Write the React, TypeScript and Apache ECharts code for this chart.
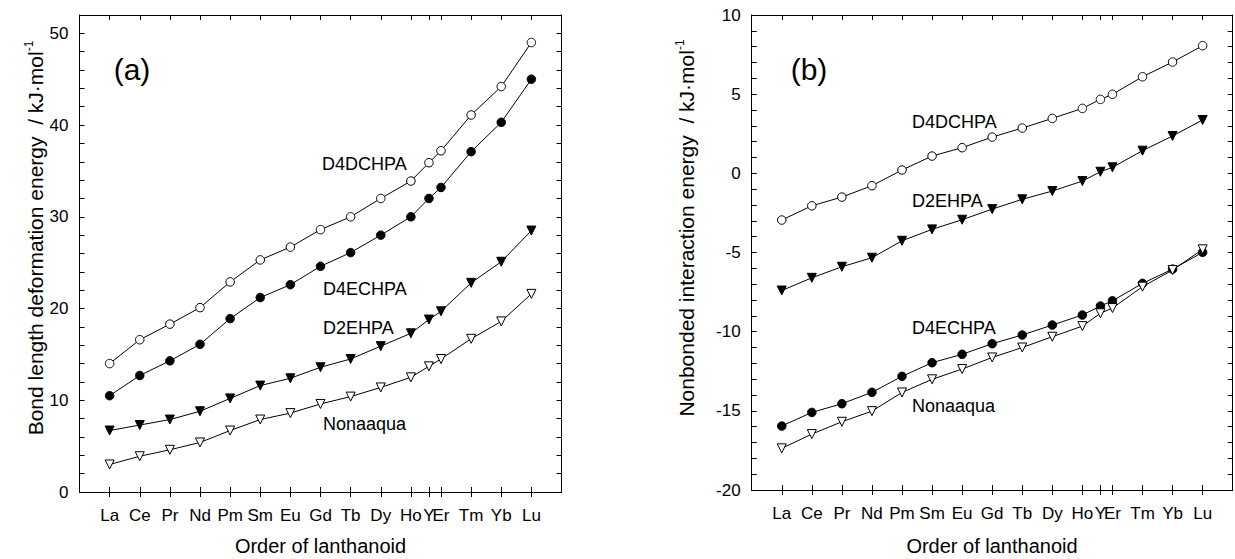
import React, { useEffect, useRef } from "react";
import * as echarts from "echarts";

// ---- data ----
const elements = ["La", "Ce", "Pr", "Nd", "Pm", "Sm", "Eu", "Gd", "Tb", "Dy", "Ho", "Y", "Er", "Tm", "Yb", "Lu"];
const positions = [0, 1, 2, 3, 4, 5, 6, 7, 8, 9, 10, 10.6, 11, 12, 13, 14];

const aD4DCHPA = [14.0, 16.6, 18.3, 20.1, 22.9, 25.3, 26.7, 28.6, 30.0, 32.0, 33.9, 35.9, 37.2, 41.1, 44.2, 49.0];
const aD4ECHPA = [10.5, 12.7, 14.3, 16.1, 18.9, 21.2, 22.6, 24.6, 26.1, 28.0, 30.0, 32.0, 33.2, 37.1, 40.3, 45.0];
const aD2EHPA = [6.7, 7.3, 7.9, 8.8, 10.2, 11.6, 12.4, 13.6, 14.5, 15.9, 17.3, 18.8, 19.7, 22.8, 25.1, 28.5];
const aNonaaqua = [3.0, 3.9, 4.6, 5.4, 6.7, 7.9, 8.6, 9.6, 10.4, 11.4, 12.5, 13.7, 14.5, 16.7, 18.6, 21.6];

const bD4DCHPA = [-2.95, -2.05, -1.5, -0.78, 0.21, 1.09, 1.62, 2.29, 2.86, 3.47, 4.1, 4.67, 4.99, 6.1, 7.03, 8.06];
const bD2EHPA = [-7.4, -6.6, -5.9, -5.33, -4.26, -3.54, -2.93, -2.26, -1.64, -1.12, -0.49, 0.1, 0.38, 1.43, 2.36, 3.37];
const bD4ECHPA = [-15.96, -15.1, -14.55, -13.83, -12.82, -11.96, -11.43, -10.76, -10.21, -9.58, -8.95, -8.38, -8.05, -6.95, -6.05, -4.99];
const bNonaaqua = [-17.37, -16.47, -15.69, -15.02, -13.84, -13.01, -12.36, -11.63, -11.0, -10.32, -9.65, -8.84, -8.51, -7.16, -6.11, -4.8];

const aYTicks = [0, 10, 20, 30, 40, 50];
const bYTicks = [-20, -15, -10, -5, 0, 5, 10];

const FONT = "'Liberation Sans', Arial, Helvetica, sans-serif";

function nameOf(v: number) {
  for (let i = 0; i < positions.length; i++) {
    if (Math.abs(positions[i] - v) < 1e-6) return elements[i];
  }
  return "";
}

const black = "#000";

function xAxes(gi: number) {
  const base = {
    type: "value",
    gridIndex: gi,
    min: -1,
    max: 15,
    splitLine: { show: false },
    axisLine: { show: true, onZero: false, lineStyle: { color: black, width: 1 } },
  };
  return [
    {
      ...base,
      position: "bottom",
      axisTick: { show: true, inside: false, length: 5, customValues: positions, lineStyle: { color: black } },
      axisLabel: {
        show: true,
        customValues: positions,
        formatter: (v: number) => nameOf(v),
        margin: 15,
        fontSize: 17,
        color: black,
        fontFamily: FONT,
      },
    },
    {
      ...base,
      position: "bottom",
      axisTick: { show: true, inside: true, length: 5, customValues: positions, lineStyle: { color: black } },
      axisLabel: { show: false },
    },
    {
      ...base,
      position: "top",
      axisTick: { show: true, inside: true, length: 5, customValues: positions, lineStyle: { color: black } },
      axisLabel: { show: false },
    },
  ];
}

function yAxes(gi: number, min: number, max: number, interval: number, labels: number[]) {
  const base = {
    type: "value",
    gridIndex: gi,
    min,
    max,
    interval,
    splitLine: { show: false },
    axisLine: { show: true, onZero: false, lineStyle: { color: black, width: 1 } },
    axisTick: { show: true, inside: true, length: 5, lineStyle: { color: black } },
  };
  return [
    {
      ...base,
      position: "left",
      axisLabel: {
        show: true,
        customValues: labels,
        margin: 11,
        fontSize: 17,
        color: black,
        fontFamily: FONT,
      },
    },
    {
      ...base,
      position: "right",
      axisLabel: { show: false },
    },
  ];
}

function mkSeries(
  name: string,
  values: number[],
  gi: number,
  kind: "openCircle" | "filledCircle" | "filledTri" | "openTri"
) {
  const isTri = kind === "filledTri" || kind === "openTri";
  const filled = kind === "filledCircle" || kind === "filledTri";
  return {
    type: "line",
    name,
    xAxisIndex: gi * 3,
    yAxisIndex: gi * 2,
    data: positions.map((p, i) => [p, values[i]]),
    symbol: isTri ? "triangle" : "circle",
    symbolRotate: isTri ? 180 : 0,
    symbolSize: isTri ? 9 : 8.5,
    showSymbol: true,
    lineStyle: { color: black, width: 1 },
    itemStyle: { color: filled ? black : "#fff", borderColor: black, borderWidth: 1 },
    emphasis: { disabled: true },
    z: 3,
  };
}

function label(text: string, x: number, y: number, fontSize: number, align: string = "left") {
  return {
    type: "text",
    x,
    y,
    style: {
      text,
      fontSize,
      fontFamily: FONT,
      fill: black,
      align,
      verticalAlign: "middle",
    },
    z: 10,
  };
}

function yTitle(main: string, x: number, y: number) {
  return {
    type: "text",
    x,
    y,
    rotation: Math.PI / 2,
    style: {
      text: `{m|${main}}{s|-1}`,
      fill: black,
      align: "center",
      verticalAlign: "middle",
      rich: {
        m: { fontSize: 21, fontFamily: FONT, fill: black, lineHeight: 24 },
        s: { fontSize: 12, fontFamily: FONT, fill: black, verticalAlign: "top", lineHeight: 24 },
      },
    },
    z: 10,
  };
}

export default function App() {
  const ref = useRef<HTMLDivElement>(null);
  useEffect(() => {
    if (!ref.current) return;
    const chart = echarts.init(ref.current, undefined, { renderer: "svg" });
    const option = {
      animation: false,
      backgroundColor: "#fff",
      grid: [
        { left: 79.5, top: 15, width: 482, height: 477 },
        { left: 751.7, top: 15, width: 481, height: 475 },
      ],
      xAxis: [...xAxes(0), ...xAxes(1)],
      yAxis: [...yAxes(0, 0, 52, 2, aYTicks), ...yAxes(1, -20, 10, 1, bYTicks)],
      series: [
        mkSeries("D4DCHPA (a)", aD4DCHPA, 0, "openCircle"),
        mkSeries("D4ECHPA (a)", aD4ECHPA, 0, "filledCircle"),
        mkSeries("D2EHPA (a)", aD2EHPA, 0, "filledTri"),
        mkSeries("Nonaaqua (a)", aNonaaqua, 0, "openTri"),
        mkSeries("D4DCHPA (b)", bD4DCHPA, 1, "openCircle"),
        mkSeries("D2EHPA (b)", bD2EHPA, 1, "filledTri"),
        mkSeries("D4ECHPA (b)", bD4ECHPA, 1, "filledCircle"),
        mkSeries("Nonaaqua (b)", bNonaaqua, 1, "openTri"),
      ],
      graphic: [
        label("(a)", 132, 69, 30, "center"),
        label("D4DCHPA", 322, 164, 18),
        label("D4ECHPA", 323, 289, 18),
        label("D2EHPA", 323, 327.5, 18),
        label("Nonaaqua", 323, 424, 18),
        label("(b)", 809, 69, 30, "center"),
        label("D4DCHPA", 912, 121.5, 18),
        label("D2EHPA", 912, 201, 18),
        label("D4ECHPA", 912, 327.5, 18),
        label("Nonaaqua", 912, 406, 18),
        label("Order of lanthanoid", 320.5, 546, 20, "center"),
        label("Order of lanthanoid", 992, 546, 20, "center"),
        yTitle("Bond length deformation energy  / kJ\u00b7mol", 35, 238),
        yTitle("Nonbonded interaction energy  / kJ\u00b7mol", 686, 228),
      ],
    };
    chart.setOption(option as any);
    return () => chart.dispose();
  }, []);
  return (
    <div
      ref={ref}
      style={{ position: "absolute", left: 0, top: 0, width: 1235, height: 559, background: "#fff" }}
    />
  );
}
